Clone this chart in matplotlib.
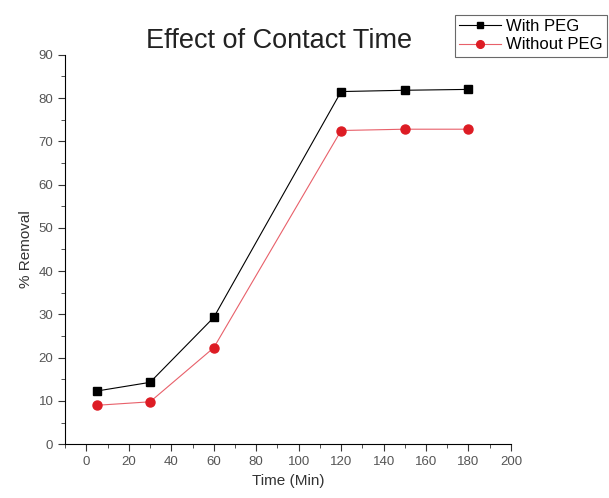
import matplotlib.pyplot as plt
from matplotlib.ticker import MultipleLocator

plt.rcParams['font.family'] = ['Liberation Sans', 'DejaVu Sans']

# contact time (min) vs % removal
time_min = [5, 30, 60, 120, 150, 180]
with_peg = [12.3, 14.3, 29.3, 81.5, 81.8, 82.0]
without_peg = [9.0, 9.8, 22.3, 72.5, 72.8, 72.8]

fig = plt.figure(figsize=(6.09, 4.98), dpi=100)
ax = fig.add_axes([0.107, 0.108, 0.732, 0.782])

ax.plot(time_min, with_peg, '-', color='black', lw=0.8,
        marker='s', ms=5.5, label='With PEG')
ax.plot(time_min, without_peg, '-', color='#e8606a', lw=0.8,
        marker='o', ms=6.5, mfc='#dd1c24', mec='#dd1c24', label='Without PEG')

ax.set_xlim(-10, 200)
ax.set_ylim(0, 90)
ax.xaxis.set_major_locator(MultipleLocator(20))
ax.xaxis.set_minor_locator(MultipleLocator(10))
ax.yaxis.set_major_locator(MultipleLocator(10))
ax.yaxis.set_minor_locator(MultipleLocator(5))
ax.tick_params(which='both', direction='out', colors='#333333', labelcolor='#555555', labelsize=9.5)
ax.tick_params(which='major', length=5)
ax.tick_params(which='minor', length=3)
ax.spines['top'].set_visible(False)
ax.spines['right'].set_visible(False)

ax.set_xlabel('Time (Min)', fontsize=11, color='#333333')
ax.set_ylabel('% Removal', fontsize=11, color='#333333')
fig.text(0.459, 0.918, 'Effect of Contact Time', fontsize=19.5, ha='center', va='center', color='#222222')

leg = fig.legend(loc='upper left', bbox_to_anchor=(0.747, 0.970), fontsize=12,
                 frameon=True, fancybox=False, edgecolor='#444444', borderaxespad=0,
                 handlelength=2.5, borderpad=0.25, labelspacing=0.2, handletextpad=0.3,
                 markerscale=0.85)
leg.get_frame().set_linewidth(0.8)

fig.savefig('out.png', dpi=100)
